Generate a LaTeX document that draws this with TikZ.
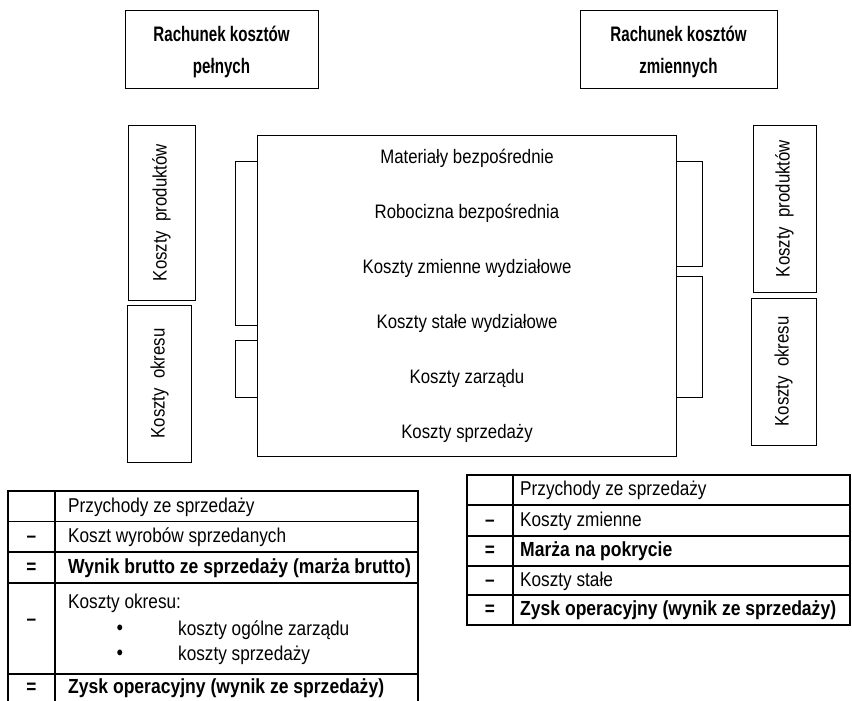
\documentclass[tikz,border=0pt]{standalone}
\usepackage{fontspec}
\setmainfont[FakeStretch=0.86]{Liberation Sans}
\newfontfamily\hdfont[FakeStretch=0.72]{Liberation Sans}
\begin{document}
\begin{tikzpicture}[x=1pt,y=-1pt,
  box/.style={draw,line width=1pt,inner sep=0pt},
  hbox/.style={box,align=center,font=\hdfont\fontsize{21}{32}\selectfont\bfseries},
  vtxt/.style={rotate=90,font=\fontsize{19.5}{22}\selectfont},
  ctxt/.style={font=\fontsize{19.5}{22}\selectfont},
  ttxt/.style={anchor=west,inner sep=0pt,font=\fontsize{20}{22}\selectfont},
  btxt/.style={anchor=west,inner sep=0pt,font=\fontsize{20.4}{22}\selectfont\bfseries},
  sym/.style={inner sep=0pt,font=\fontsize{20}{22}\selectfont\bfseries},
  tl/.style={line width=1.6pt},
  br/.style={line width=1pt}]
\useasboundingbox (0,0) rectangle (852,701);
% top boxes
\node[box,minimum width=193pt,minimum height=78pt] (full) at (221.5,50) {};
\node[hbox,draw=none] (fullt) at (221.5,52) {Rachunek kosztów\\pełnych};
\node[box,minimum width=197pt,minimum height=78pt] (var) at (678.5,50) {};
\node[hbox,draw=none] (vart) at (678.5,52) {Rachunek kosztów\\zmiennych};
% left vertical boxes
\node[box,minimum width=67pt,minimum height=175pt] (lprod) at (161.5,212.5) {};
\node[vtxt] (lprodt) at (lprod.center) {Koszty\ \ produktów};
\node[box,minimum width=64pt,minimum height=157pt] (lokr) at (159.5,383.5) {};
\node[vtxt] (lokrt) at (lokr.center) {Koszty\ \ okresu};
% right vertical boxes
\node[box,minimum width=63pt,minimum height=167pt] (rprod) at (784.5,208.5) {};
\node[vtxt] (rprodt) at (rprod.center) {Koszty\ \ produktów};
\node[box,minimum width=65pt,minimum height=147pt] (rokr) at (783.5,371.5) {};
\node[vtxt] (rokrt) at (rokr.center) {Koszty\ \ okresu};
% center box
\node[box,minimum width=419pt,minimum height=321pt] (cbox) at (467,295.5) {};
\node[ctxt] (c1) at (467,158) {Materiały bezpośrednie};
\node[ctxt] (c2) at (467,213) {Robocizna bezpośrednia};
\node[ctxt] (c3) at (467,268.5) {Koszty zmienne wydziałowe};
\node[ctxt] (c4) at (467,323) {Koszty stałe wydziałowe};
\node[ctxt] (c5) at (467,378) {Koszty zarządu};
\node[ctxt] (c6) at (467,433) {Koszty sprzedaży};
% brackets
\coordinate (la1) at (cbox.west |- 0,161.7);
\coordinate (la2) at (cbox.west |- 0,325.7);
\coordinate (lb1) at (cbox.west |- 0,340);
\coordinate (lb2) at (cbox.west |- 0,397);
\draw[br] (la1) -- ++(-22,0) |- (la2);
\draw[br] (lb1) -- ++(-22,0) |- (lb2);
\coordinate (ra1) at (cbox.east |- 0,161.7);
\coordinate (ra2) at (cbox.east |- 0,266);
\coordinate (rb1) at (cbox.east |- 0,276.7);
\coordinate (rb2) at (cbox.east |- 0,397);
\draw[br] (ra1) -- ++(25,0) |- (ra2);
\draw[br] (rb1) -- ++(25,0) |- (rb2);
% left table
\coordinate (LT1) at (8,491);
\coordinate (LT2) at (418,491);
\coordinate (LB1) at (8,701);
\coordinate (LB2) at (418,701);
\coordinate (LC1) at (55,491);
\coordinate (LC2) at (55,701);
\draw[tl] (LB1) -- (LT1) -- (LT2) -- (LB2);
\draw[tl] (LC1) -- (LC2);
\foreach \y in {521.5,552,583,674}{\draw[tl] (8,\y) -- (418,\y);}
\node[ttxt] (l1) at (68,507) {Przychody ze sprzedaży};
\node[sym] (s2) at (31.5,539) {–};
\node[ttxt] (l2) at (68,537) {Koszt wyrobów sprzedanych};
\node[sym] (s3) at (31.5,568) {=};
\node[btxt] (l3) at (68,568) {Wynik brutto ze sprzedaży (marża brutto)};
\node[sym] (s4) at (31.5,622) {–};
\node[ttxt] (l4) at (68,603) {Koszty okresu:};
\node[sym] (b1) at (120,630) {•};
\node[ttxt] (l5) at (178,630) {koszty ogólne zarządu};
\node[sym] (b2) at (120,655) {•};
\node[ttxt] (l6) at (178,655) {koszty sprzedaży};
\node[sym] (s5) at (31.5,688) {=};
\node[btxt] (l7) at (68,688) {Zysk operacyjny (wynik ze sprzedaży)};
% right table
\draw[tl] (467,475) rectangle (850,625);
\draw[tl] (513,475) -- (513,625);
\foreach \y in {505,536,566,595}{\draw[tl] (467,\y) -- (850,\y);}
\node[ttxt] (r1) at (520,490) {Przychody ze sprzedaży};
\node[sym] (t2) at (490,523) {–};
\node[ttxt] (r2) at (520,521) {Koszty zmienne};
\node[sym] (t3) at (490,551) {=};
\node[btxt] (r3) at (520,551) {Marża na pokrycie};
\node[sym] (t4) at (490,583) {–};
\node[ttxt] (r4) at (520,581) {Koszty stałe};
\node[sym] (t5) at (490,610.5) {=};
\node[btxt] (r5) at (520,610.5) {Zysk operacyjny (wynik ze sprzedaży)};
\end{tikzpicture}
\end{document}
